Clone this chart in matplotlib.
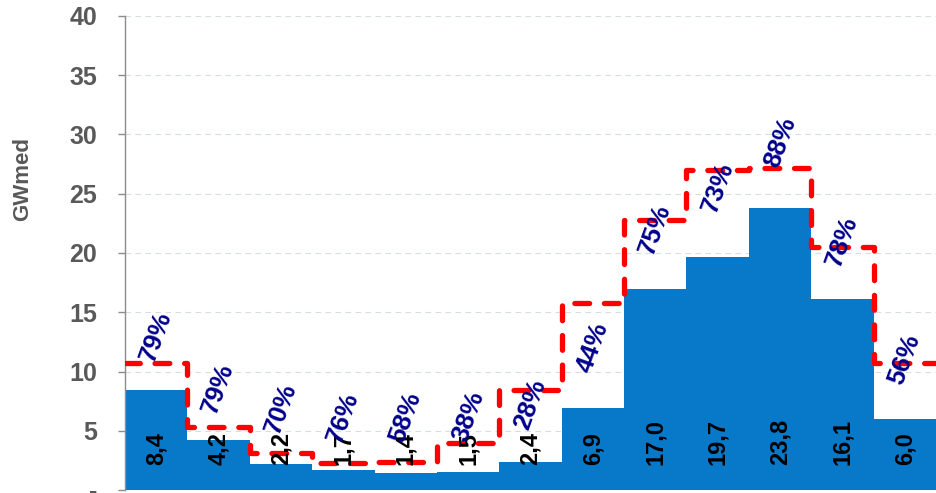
import numpy as np
import matplotlib.pyplot as plt

# Valores (GWmed)
bar_values = [8.4, 4.2, 2.2, 1.7, 1.4, 1.5, 2.4, 6.9, 17.0, 19.7, 23.8, 16.1, 6.0]
line_values = [10.7, 5.3, 3.15, 2.3, 2.35, 4.0, 8.4, 15.8, 22.8, 27.0, 27.2, 20.5, 10.7]
pct_labels = ['79%', '79%', '70%', '76%', '58%', '38%', '28%', '44%',
              '75%', '73%', '88%', '78%', '56%']
# hidden series that carries the % labels
pct_pos = [13.0, 8.6, 6.9, 6.1, 6.1, 6.2, 7.2, 12.0, 22.0, 25.5, 29.3, 21.0, 11.0]
yticks = [0, 5, 10, 15, 20, 25, 30, 35, 40]
ytick_labels = ['-', '5', '10', '15', '20', '25', '30', '35', '40']

plt.rcParams['font.family'] = ['Liberation Sans', 'DejaVu Sans']

fig = plt.figure(figsize=(9.36, 4.93), dpi=100)
ax = fig.add_axes([125 / 936, 3 / 493, 811 / 936, 474 / 493])

n = len(bar_values)
x = np.arange(n)

ax.bar(x, bar_values, width=1.0, align='edge', color='#0878C8', zorder=2)

# red dashed step line
xs = np.arange(n + 1)
ys = line_values + [line_values[-1]]
ax.step(xs, ys, where='post', color='#FF0000', lw=3.8,
        linestyle=(0, (2.8, 2.8)), dash_capstyle='round',
        solid_joinstyle='round', zorder=3)

# value labels inside the bars
for i, v in enumerate(bar_values):
    ax.annotate('{:.1f}'.format(v).replace('.', ','), xy=(i + 0.5, 0),
                xytext=(0, 18), textcoords='offset points',
                rotation=90, ha='center', va='bottom',
                fontsize=17, fontweight='bold', color='black', zorder=4)

# percentage labels
for i, (p, t) in enumerate(zip(pct_pos, pct_labels)):
    ax.text(i + 0.5, p, t, rotation=70, ha='center', va='center',
            fontsize=18.5, fontweight='bold', color='#00008B', zorder=5)

ax.set_xlim(0, n)
ax.set_ylim(0, 40)
ax.set_yticks(yticks)
ax.set_yticklabels(ytick_labels)
ax.set_xticks([])

ax.grid(axis='y', color='#D6DEE4', lw=0.8, linestyle=(0, (5, 4)), zorder=0)
ax.set_axisbelow(True)

for s in ['top', 'right', 'bottom']:
    ax.spines[s].set_visible(False)
ax.spines['left'].set_color('#8C8C8C')
ax.spines['left'].set_linewidth(1.0)
ax.tick_params(axis='y', length=5, width=1, color='#8C8C8C', pad=15,
               labelsize=18, labelcolor='#595959')
for lab in ax.get_yticklabels():
    lab.set_fontweight('bold')

ax.set_ylabel('GWmed', fontsize=16, fontweight='bold', color='#595959')
ax.yaxis.set_label_coords(-0.1134, 0.656)

fig.savefig('out.png', dpi=100)
